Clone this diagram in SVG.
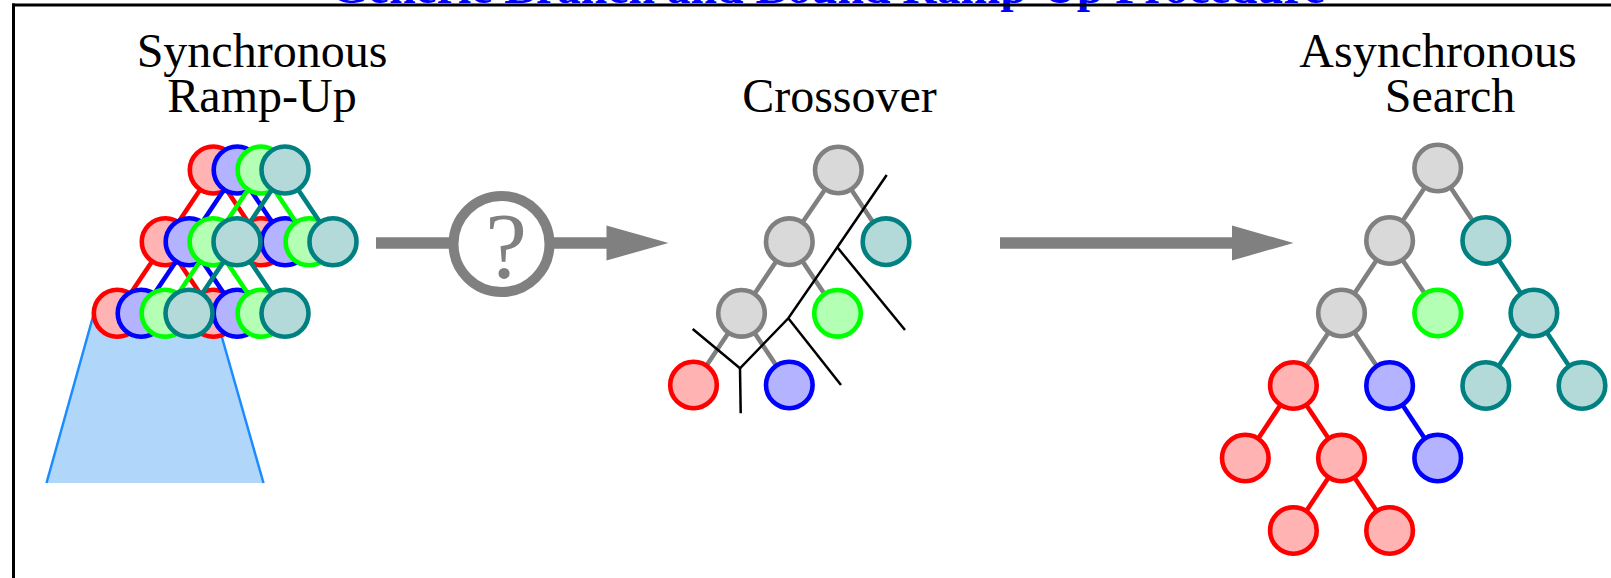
<svg xmlns="http://www.w3.org/2000/svg" width="1611" height="578" viewBox="0 0 1611 578">
  <style>
    .lbl { font-family: "Liberation Serif", "Times New Roman", serif; font-size: 48px; fill: #000; text-anchor: middle; }
    .title { font-family: "Liberation Serif", "Times New Roman", serif; font-size: 44px; font-weight: bold; fill: #0000ff; }
    .n { stroke-width: 4.6; }
    .n-red { fill: #ffb3b3; stroke: #ff0000; }
    .n-blue { fill: #b3b3ff; stroke: #0000ff; }
    .n-green { fill: #b3ffb3; stroke: #00ff00; }
    .n-teal { fill: #b3d9d9; stroke: #008080; }
    .n-gray { fill: #d9d9d9; stroke: #808080; }
    .e { stroke-width: 4.6; fill: none; }
    .e-red { stroke: #ff0000; }
    .e-blue { stroke: #0000ff; }
    .e-green { stroke: #00ff00; }
    .e-teal { stroke: #008080; }
    .e-gray { stroke: #808080; }
    .cut { stroke: #000; stroke-width: 2.5; fill: none; }
    .flow { stroke: #808080; stroke-width: 11.5; fill: none; }
    .head { fill: #808080; }
  </style>

  <!-- heading, partly clipped by the top edge -->
  <text class="title" x="331" y="2.5" textLength="994" lengthAdjust="spacingAndGlyphs">Generic Branch and Bound Ramp-Up Procedure</text>

  <!-- frame -->
  <g id="frame" fill="none" stroke="#000" stroke-width="3">
    <line x1="13.5" y1="3.5" x2="13.5" y2="578"/>
    <line x1="12" y1="5" x2="1611" y2="5"/>
  </g>

  <!-- column headings -->
  <g id="labels">
    <text class="lbl" x="262" y="66.5">Synchronous</text>
    <text class="lbl" x="262" y="112">Ramp-Up</text>
    <text class="lbl" x="839.5" y="112">Crossover</text>
    <text class="lbl" x="1438" y="66.5">Asynchronous</text>
    <text class="lbl" x="1450" y="112">Search</text>
  </g>

  <!-- subtree region below the ramp-up trees -->
  <g id="ramp-region">
    <polygon points="94,313 215,313 263.5,483 46.5,483" fill="#b0d6fa"/>
    <line x1="94" y1="313" x2="46.5" y2="483" stroke="#1a8cff" stroke-width="2.5"/>
    <line x1="215" y1="313" x2="263.5" y2="483" stroke="#1a8cff" stroke-width="2.5"/>
  </g>

  <!-- synchronous ramp-up: four copies of the same tree, shifted -->
  <g id="ramp-red">
    <g class="connectors">
      <path class="e e-red" d="M213.3,170 L165.3,241.7 M213.3,170 L261.3,241.7 M165.3,241.7 L117.3,313.3 M165.3,241.7 L213.3,313.3"/>
    </g>
    <g id="ramp-red-root"><circle class="n n-red" cx="213.3" cy="170" r="23.5"/></g>
    <g id="ramp-red-l"><circle class="n n-red" cx="165.3" cy="241.7" r="23.5"/></g>
    <g id="ramp-red-r"><circle class="n n-red" cx="261.3" cy="241.7" r="23.5"/></g>
    <g id="ramp-red-ll"><circle class="n n-red" cx="117.3" cy="313.3" r="23.5"/></g>
    <g id="ramp-red-lr"><circle class="n n-red" cx="213.3" cy="313.3" r="23.5"/></g>
  </g>
  <g id="ramp-blue">
    <g class="connectors">
      <path class="e e-blue" d="M237.2,170 L189.2,241.7 M237.2,170 L285.2,241.7 M189.2,241.7 L141.2,313.3 M189.2,241.7 L237.2,313.3"/>
    </g>
    <g id="ramp-blue-root"><circle class="n n-blue" cx="237.2" cy="170" r="23.5"/></g>
    <g id="ramp-blue-l"><circle class="n n-blue" cx="189.2" cy="241.7" r="23.5"/></g>
    <g id="ramp-blue-r"><circle class="n n-blue" cx="285.2" cy="241.7" r="23.5"/></g>
    <g id="ramp-blue-ll"><circle class="n n-blue" cx="141.2" cy="313.3" r="23.5"/></g>
    <g id="ramp-blue-lr"><circle class="n n-blue" cx="237.2" cy="313.3" r="23.5"/></g>
  </g>
  <g id="ramp-green">
    <g class="connectors">
      <path class="e e-green" d="M261.1,170 L213.1,241.7 M261.1,170 L309.1,241.7 M213.1,241.7 L165.1,313.3 M213.1,241.7 L261.1,313.3"/>
    </g>
    <g id="ramp-green-root"><circle class="n n-green" cx="261.1" cy="170" r="23.5"/></g>
    <g id="ramp-green-l"><circle class="n n-green" cx="213.1" cy="241.7" r="23.5"/></g>
    <g id="ramp-green-r"><circle class="n n-green" cx="309.1" cy="241.7" r="23.5"/></g>
    <g id="ramp-green-ll"><circle class="n n-green" cx="165.1" cy="313.3" r="23.5"/></g>
    <g id="ramp-green-lr"><circle class="n n-green" cx="261.1" cy="313.3" r="23.5"/></g>
  </g>
  <g id="ramp-teal">
    <g class="connectors">
      <path class="e e-teal" d="M285,170 L237,241.7 M285,170 L333,241.7 M237,241.7 L189,313.3 M237,241.7 L285,313.3"/>
    </g>
    <g id="ramp-teal-root"><circle class="n n-teal" cx="285" cy="170" r="23.5"/></g>
    <g id="ramp-teal-l"><circle class="n n-teal" cx="237" cy="241.7" r="23.5"/></g>
    <g id="ramp-teal-r"><circle class="n n-teal" cx="333" cy="241.7" r="23.5"/></g>
    <g id="ramp-teal-ll"><circle class="n n-teal" cx="189" cy="313.3" r="23.5"/></g>
    <g id="ramp-teal-lr"><circle class="n n-teal" cx="285" cy="313.3" r="23.5"/></g>
  </g>

  <!-- flow arrows -->
  <g id="flow">
    <line class="flow" x1="376" y1="243" x2="454" y2="243"/>
    <line class="flow" x1="549" y1="243" x2="608" y2="243"/>
    <polygon class="head" points="606.5,225.5 668.5,243 606.5,260.5"/>
    <line class="flow" x1="1000" y1="243" x2="1233" y2="243"/>
    <polygon class="head" points="1232,225.5 1293.5,243 1232,260.5"/>
  </g>
  <g id="decision">
    <circle cx="501.5" cy="244" r="48" fill="#fff" stroke="#808080" stroke-width="10"/>
    <text x="506" y="277" text-anchor="middle" font-family="Liberation Serif, Times New Roman, serif" font-size="94" fill="#808080">?</text>
  </g>

  <!-- crossover tree -->
  <g id="cross-connectors" class="connectors">
    <path class="e e-gray" d="M838.3,170 L789.3,241.7 M838.3,170 L886,241.7 M789.3,241.7 L741.5,313.3 M789.3,241.7 L837.5,313.3 M741.5,313.3 L693.5,385 M741.5,313.3 L789.3,385"/>
  </g>
  <g id="cross-root"><circle class="n n-gray" cx="838.3" cy="170" r="23.3"/></g>
  <g id="cross-a"><circle class="n n-gray" cx="789.3" cy="241.7" r="23.3"/></g>
  <g id="cross-teal"><circle class="n n-teal" cx="886" cy="241.7" r="23.3"/></g>
  <g id="cross-b"><circle class="n n-gray" cx="741.5" cy="313.3" r="23.3"/></g>
  <g id="cross-green"><circle class="n n-green" cx="837.5" cy="313.3" r="23.3"/></g>
  <g id="cross-red"><circle class="n n-red" cx="693.5" cy="385" r="23.3"/></g>
  <g id="cross-blue"><circle class="n n-blue" cx="789.3" cy="385" r="23.3"/></g>
  <g id="cross-cuts">
    <polyline class="cut" points="692.7,329 740,368.3 788.3,318.3 837.3,247.3 886.7,175"/>
    <line class="cut" x1="740" y1="368.3" x2="740.7" y2="413.3"/>
    <line class="cut" x1="788.3" y1="318.3" x2="841" y2="385"/>
    <line class="cut" x1="837.3" y1="247.3" x2="905" y2="330"/>
  </g>

  <!-- asynchronous search tree -->
  <g id="async-connectors" class="connectors">
    <path class="e e-gray" d="M1437.7,168 L1389.6,240.5 M1437.7,168 L1485.8,240.5 M1389.6,240.5 L1341.5,313 M1389.6,240.5 L1437.7,313 M1341.5,313 L1293.4,385.5 M1341.5,313 L1389.6,385.5"/>
    <path class="e e-teal" d="M1485.8,240.5 L1533.9,313 M1533.9,313 L1485.8,385.5 M1533.9,313 L1582,385.5"/>
    <path class="e e-red" d="M1293.4,385.5 L1245.3,458 M1293.4,385.5 L1341.5,458 M1341.5,458 L1293.4,530.5 M1341.5,458 L1389.6,530.5"/>
    <path class="e e-blue" d="M1389.6,385.5 L1437.7,458"/>
  </g>
  <g id="async-root"><circle class="n n-gray" cx="1437.7" cy="168" r="23.3"/></g>
  <g id="async-a"><circle class="n n-gray" cx="1389.6" cy="240.5" r="23.3"/></g>
  <g id="async-t1"><circle class="n n-teal" cx="1485.8" cy="240.5" r="23.3"/></g>
  <g id="async-b"><circle class="n n-gray" cx="1341.5" cy="313" r="23.3"/></g>
  <g id="async-g1"><circle class="n n-green" cx="1437.7" cy="313" r="23.3"/></g>
  <g id="async-t2"><circle class="n n-teal" cx="1533.9" cy="313" r="23.3"/></g>
  <g id="async-r1"><circle class="n n-red" cx="1293.4" cy="385.5" r="23.3"/></g>
  <g id="async-b1"><circle class="n n-blue" cx="1389.6" cy="385.5" r="23.3"/></g>
  <g id="async-t3"><circle class="n n-teal" cx="1485.8" cy="385.5" r="23.3"/></g>
  <g id="async-t4"><circle class="n n-teal" cx="1582" cy="385.5" r="23.3"/></g>
  <g id="async-r2"><circle class="n n-red" cx="1245.3" cy="458" r="23.3"/></g>
  <g id="async-r3"><circle class="n n-red" cx="1341.5" cy="458" r="23.3"/></g>
  <g id="async-b2"><circle class="n n-blue" cx="1437.7" cy="458" r="23.3"/></g>
  <g id="async-r4"><circle class="n n-red" cx="1293.4" cy="530.5" r="23.3"/></g>
  <g id="async-r5"><circle class="n n-red" cx="1389.6" cy="530.5" r="23.3"/></g>
</svg>
